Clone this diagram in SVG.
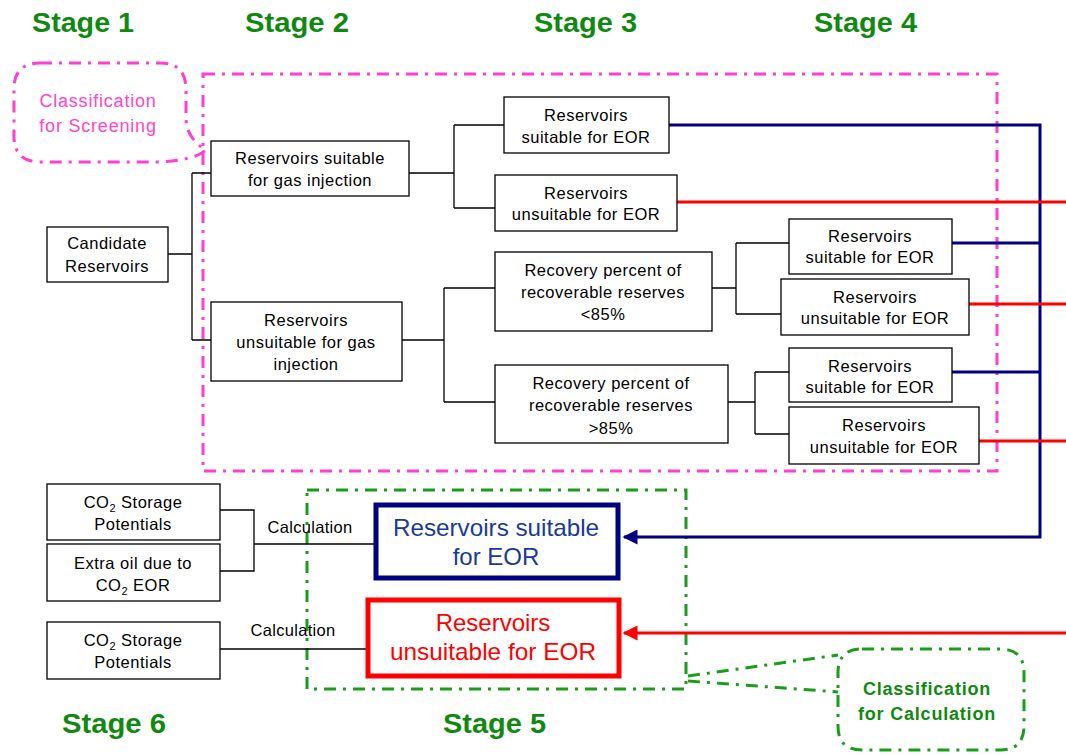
<svg xmlns="http://www.w3.org/2000/svg" width="1066" height="755" viewBox="0 0 1066 755">
<style>
.stage{font-family:"Liberation Sans",Arial,sans-serif;font-weight:bold;font-size:27px;fill:#0f8a0f}
.t{font-family:"Liberation Sans",Arial,sans-serif;font-size:16.5px;fill:#000;text-anchor:middle;letter-spacing:0.5px}
.box{fill:#fff;stroke:#000;stroke-width:1.3}
.ln{fill:none;stroke:#000;stroke-width:1.3}
.blue{fill:none;stroke:#000080;stroke-width:3}
.red{fill:none;stroke:#ff0000;stroke-width:3}
.pink{fill:none;stroke:#ff3fd2;stroke-width:3;stroke-dasharray:12 7 3 7}
.green{fill:none;stroke:#1a9e1a;stroke-width:3;stroke-dasharray:12 7 3 7}
.big{font-family:"Liberation Sans",Arial,sans-serif;font-size:24px;text-anchor:middle}
.sub{font-size:11px}
</style>
<defs>
<marker id="ab" viewBox="0 0 10 10" refX="9" refY="5" markerWidth="5.5" markerHeight="5" orient="auto" markerUnits="strokeWidth"><path d="M0,0 L10,5 L0,10 z" fill="#000080"/></marker>
<marker id="ar" viewBox="0 0 10 10" refX="9" refY="5" markerWidth="5.5" markerHeight="5" orient="auto" markerUnits="strokeWidth"><path d="M0,0 L10,5 L0,10 z" fill="#ff0000"/></marker>
</defs>

<g id="stages">
<text class="stage" x="32" y="32" textLength="102" lengthAdjust="spacingAndGlyphs">Stage 1</text>
<text class="stage" x="245" y="32" textLength="104" lengthAdjust="spacingAndGlyphs">Stage 2</text>
<text class="stage" x="534" y="32" textLength="103" lengthAdjust="spacingAndGlyphs">Stage 3</text>
<text class="stage" x="814" y="32" textLength="103" lengthAdjust="spacingAndGlyphs">Stage 4</text>
<text class="stage" x="62" y="733" textLength="104" lengthAdjust="spacingAndGlyphs">Stage 6</text>
<text class="stage" x="443" y="733" textLength="103" lengthAdjust="spacingAndGlyphs">Stage 5</text>
</g>

<g id="screening-frame">
<rect class="pink" x="203" y="74" width="794" height="397"/>
<path class="pink" d="M40,63 H160 Q186,63 186,89 V118 Q186,138 206,150 Q195,160 160,162 H40 Q14,162 14,136 V89 Q14,63 40,63 Z"/>
<text x="98" y="107" style="font-family:'Liberation Sans',Arial,sans-serif;font-size:18px;fill:#ff44cc;text-anchor:middle;letter-spacing:0.8px">Classification</text>
<text x="98" y="132" style="font-family:'Liberation Sans',Arial,sans-serif;font-size:18px;fill:#ff44cc;text-anchor:middle;letter-spacing:0.8px">for Screening</text>
</g>

<g id="calc-frame">
<rect class="green" x="307" y="490" width="379" height="199"/>
<path class="green" d="M688,676 L838,655 M688,681 L838,692"/>
<path class="green" d="M862,649 H1000 Q1024,649 1024,673 V726 Q1024,750 1000,750 H862 Q838,750 838,726 V673 Q838,649 862,649 Z"/>
<text x="927" y="695" style="font-family:'Liberation Sans',Arial,sans-serif;font-size:18px;font-weight:bold;fill:#0f8a0f;text-anchor:middle;letter-spacing:0.8px">Classification</text>
<text x="927" y="720" style="font-family:'Liberation Sans',Arial,sans-serif;font-size:18px;font-weight:bold;fill:#0f8a0f;text-anchor:middle;letter-spacing:0.8px">for Calculation</text>
</g>

<g id="connectors">
<path class="ln" d="M168,254 H192 M192,173 V340 M192,173 H211 M192,340 H211"/>
<path class="ln" d="M409,173 H454 M454,125 V208 M454,125 H504 M454,208 H495"/>
<path class="ln" d="M402,340 H444 M444,288 V402 M444,288 H495 M444,402 H495"/>
<path class="ln" d="M712,288 H736 M736,243 V314 M736,243 H789 M736,314 H781"/>
<path class="ln" d="M728,402 H755 M755,372 V434 M755,372 H789 M755,434 H789"/>
<path class="ln" d="M220,510 H254 V571 H220 M254,544 H374"/>
<path class="ln" d="M220,649 H366"/>
<path class="blue" d="M669,125 H1040 V537 H624" marker-end="url(#ab)"/>
<path class="blue" d="M952,243 H1040 M952,372 H1040"/>
<path class="red" d="M677,202 H1066 M969,304 H1066 M979,441 H1066"/>
<path class="red" d="M1066,633 H624" marker-end="url(#ar)"/>
<text class="t" x="310" y="533" style="letter-spacing:0.3px">Calculation</text>
<text class="t" x="293" y="636" style="letter-spacing:0.3px">Calculation</text>
</g>

<g id="candidate">
<rect class="box" x="47" y="227" width="121" height="55"/>
<text class="t" x="107" y="249">Candidate</text>
<text class="t" x="107" y="272">Reservoirs</text>
</g>

<g id="gas-suitable">
<rect class="box" x="211" y="141" width="198" height="55"/>
<text class="t" x="310" y="164">Reservoirs suitable</text>
<text class="t" x="310" y="186">for gas injection</text>
</g>

<g id="gas-unsuitable">
<rect class="box" x="211" y="302" width="191" height="79"/>
<text class="t" x="306" y="326">Reservoirs</text>
<text class="t" x="306" y="348">unsuitable for gas</text>
<text class="t" x="306" y="370">injection</text>
</g>

<g id="eor-suitable-1">
<rect class="box" x="504" y="97" width="165" height="56"/>
<text class="t" x="586" y="121">Reservoirs</text>
<text class="t" x="586" y="143">suitable for EOR</text>
</g>

<g id="eor-unsuitable-1">
<rect class="box" x="495" y="175" width="182" height="56"/>
<text class="t" x="586" y="199">Reservoirs</text>
<text class="t" x="586" y="220">unsuitable for EOR</text>
</g>

<g id="recovery-lt85">
<rect class="box" x="495" y="252" width="217" height="79"/>
<text class="t" x="603" y="276">Recovery percent of</text>
<text class="t" x="603" y="298">recoverable reserves</text>
<text class="t" x="603" y="320">&lt;85%</text>
</g>

<g id="recovery-gt85">
<rect class="box" x="495" y="365" width="233" height="78"/>
<text class="t" x="611" y="389">Recovery percent of</text>
<text class="t" x="611" y="411">recoverable reserves</text>
<text class="t" x="611" y="434">&gt;85%</text>
</g>

<g id="eor-suitable-2">
<rect class="box" x="789" y="219" width="163" height="55"/>
<text class="t" x="870" y="242">Reservoirs</text>
<text class="t" x="870" y="263">suitable for EOR</text>
</g>

<g id="eor-unsuitable-2">
<rect class="box" x="781" y="279" width="188" height="56"/>
<text class="t" x="875" y="303">Reservoirs</text>
<text class="t" x="875" y="324">unsuitable for EOR</text>
</g>

<g id="eor-suitable-3">
<rect class="box" x="789" y="348" width="163" height="54"/>
<text class="t" x="870" y="372">Reservoirs</text>
<text class="t" x="870" y="393">suitable for EOR</text>
</g>

<g id="eor-unsuitable-3">
<rect class="box" x="789" y="407" width="190" height="57"/>
<text class="t" x="884" y="431">Reservoirs</text>
<text class="t" x="884" y="453">unsuitable for EOR</text>
</g>

<g id="final-suitable">
<rect x="376" y="505" width="242" height="73" fill="#fff" stroke="#000080" stroke-width="5"/>
<text class="big" x="496" y="536" fill="#1a3a9a" textLength="206" lengthAdjust="spacingAndGlyphs">Reservoirs suitable</text>
<text class="big" x="496" y="565" fill="#1a3a9a">for EOR</text>
</g>

<g id="final-unsuitable">
<rect x="368" y="600" width="251" height="76" fill="#fff" stroke="#ff0000" stroke-width="5"/>
<text class="big" x="493" y="631" fill="#ff0000">Reservoirs</text>
<text class="big" x="493" y="660" fill="#ff0000" textLength="206" lengthAdjust="spacingAndGlyphs">unsuitable for EOR</text>
</g>

<g id="co2-storage-1">
<rect class="box" x="47" y="484" width="173" height="56"/>
<text class="t" x="133" y="508">CO<tspan class="sub" dy="4">2</tspan><tspan dy="-4"> Storage</tspan></text>
<text class="t" x="133" y="530">Potentials</text>
</g>

<g id="extra-oil">
<rect class="box" x="47" y="544" width="173" height="57"/>
<text class="t" x="133" y="569">Extra oil due to</text>
<text class="t" x="133" y="591">CO<tspan class="sub" dy="4">2</tspan><tspan dy="-4"> EOR</tspan></text>
</g>

<g id="co2-storage-2">
<rect class="box" x="47" y="622" width="173" height="57"/>
<text class="t" x="133" y="646">CO<tspan class="sub" dy="4">2</tspan><tspan dy="-4"> Storage</tspan></text>
<text class="t" x="133" y="668">Potentials</text>
</g>
</svg>
